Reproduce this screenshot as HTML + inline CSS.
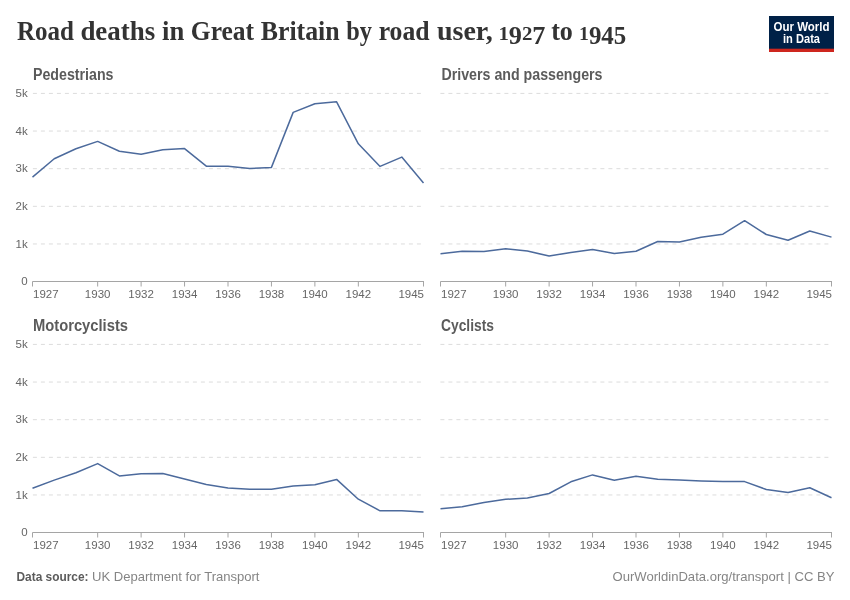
<!DOCTYPE html>
<html><head><meta charset="utf-8">
<style>
html,body{margin:0;padding:0;background:#fff;}
svg{display:block;will-change:transform;}
.t{font-family:"Liberation Serif",serif;font-weight:bold;font-size:27px;fill:#333;}
.td{font-size:19.5px;}
.ft{font-family:"Liberation Sans",sans-serif;font-weight:bold;font-size:16px;fill:#5b5b5b;}
.yl{font-family:"Liberation Sans",sans-serif;font-size:11.5px;fill:#666;text-anchor:end;}
.xl{font-family:"Liberation Sans",sans-serif;font-size:11.5px;fill:#666;}
.g{stroke:#dcdcdc;stroke-width:1;stroke-dasharray:4,4;}
.ax{stroke:#a5a5a5;stroke-width:1;}
.ln{fill:none;stroke:#4c6a9c;stroke-width:1.5;stroke-linejoin:round;stroke-linecap:butt;}
.fs{font-family:"Liberation Sans",sans-serif;font-size:13px;fill:#858585;}
.fsb{font-weight:bold;fill:#5b5b5b;}
.logo{font-family:"Liberation Sans",sans-serif;font-weight:bold;font-size:12px;fill:#fff;text-anchor:middle;}
</style></head>
<body>
<svg width="850" height="600" viewBox="0 0 850 600">
<rect width="850" height="600" fill="#fff"/>
<text x="16.9" y="40.2" class="t" textLength="57.0" lengthAdjust="spacingAndGlyphs">Road</text>
<text x="80.4" y="40.2" class="t" textLength="74.8" lengthAdjust="spacingAndGlyphs">deaths</text>
<text x="162.1" y="40.2" class="t" textLength="22.2" lengthAdjust="spacingAndGlyphs">in</text>
<text x="190.8" y="40.2" class="t" textLength="63.3" lengthAdjust="spacingAndGlyphs">Great</text>
<text x="260.7" y="40.2" class="t" textLength="79.0" lengthAdjust="spacingAndGlyphs">Britain</text>
<text x="346.3" y="40.2" class="t" textLength="25.7" lengthAdjust="spacingAndGlyphs">by</text>
<text x="378.7" y="40.2" class="t" textLength="50.9" lengthAdjust="spacingAndGlyphs">road</text>
<text x="436.9" y="40.2" class="t" textLength="55.8" lengthAdjust="spacingAndGlyphs">user,</text>
<text x="498.4" y="40.2" class="t td" textLength="47.1" lengthAdjust="spacingAndGlyphs"><tspan dy="0.0">1</tspan><tspan dy="3.5" style="font-size:24.5px">9</tspan><tspan dy="-3.5">2</tspan><tspan dy="3.5" style="font-size:24.5px">7</tspan></text>
<text x="551.2" y="40.2" class="t" textLength="21.7" lengthAdjust="spacingAndGlyphs">to</text>
<text x="579.0" y="40.2" class="t td" textLength="47.3" lengthAdjust="spacingAndGlyphs"><tspan dy="0.0">1</tspan><tspan dy="3.5" style="font-size:24.5px">9</tspan><tspan dy="0.0" style="font-size:24.5px">4</tspan><tspan dy="0.0" style="font-size:24.5px">5</tspan></text>
<rect x="769" y="16" width="65" height="36" fill="#002147"/>
<rect x="769" y="48.7" width="65" height="3.3" fill="#ce261e"/>
<text x="801.5" y="30.8" class="logo" textLength="56" lengthAdjust="spacingAndGlyphs">Our World</text>
<text x="801.5" y="43" class="logo" textLength="37" lengthAdjust="spacingAndGlyphs">in Data</text>
<text x="33" y="79.5" class="ft" textLength="80.5" lengthAdjust="spacingAndGlyphs">Pedestrians</text>
<line x1="32.9" y1="243.96" x2="423.5" y2="243.96" class="g"/>
<text x="27.7" y="247.56" class="yl">1k</text>
<line x1="32.9" y1="206.32" x2="423.5" y2="206.32" class="g"/>
<text x="27.7" y="209.92" class="yl">2k</text>
<line x1="32.9" y1="168.68" x2="423.5" y2="168.68" class="g"/>
<text x="27.7" y="172.28" class="yl">3k</text>
<line x1="32.9" y1="131.04" x2="423.5" y2="131.04" class="g"/>
<text x="27.7" y="134.64" class="yl">4k</text>
<line x1="32.9" y1="93.40" x2="423.5" y2="93.40" class="g"/>
<text x="27.7" y="97.00" class="yl">5k</text>
<text x="27.7" y="285.10" class="yl">0</text>
<line x1="32.5" y1="281.5" x2="424.0" y2="281.5" class="ax"/>
<line x1="32.50" y1="281.5" x2="32.50" y2="286.5" class="ax"/>
<text x="33.00" y="298.00" class="xl" text-anchor="start">1927</text>
<line x1="97.67" y1="281.5" x2="97.67" y2="286.5" class="ax"/>
<text x="97.67" y="298.00" class="xl" text-anchor="middle">1930</text>
<line x1="141.11" y1="281.5" x2="141.11" y2="286.5" class="ax"/>
<text x="141.11" y="298.00" class="xl" text-anchor="middle">1932</text>
<line x1="184.56" y1="281.5" x2="184.56" y2="286.5" class="ax"/>
<text x="184.56" y="298.00" class="xl" text-anchor="middle">1934</text>
<line x1="228.00" y1="281.5" x2="228.00" y2="286.5" class="ax"/>
<text x="228.00" y="298.00" class="xl" text-anchor="middle">1936</text>
<line x1="271.44" y1="281.5" x2="271.44" y2="286.5" class="ax"/>
<text x="271.44" y="298.00" class="xl" text-anchor="middle">1938</text>
<line x1="314.89" y1="281.5" x2="314.89" y2="286.5" class="ax"/>
<text x="314.89" y="298.00" class="xl" text-anchor="middle">1940</text>
<line x1="358.33" y1="281.5" x2="358.33" y2="286.5" class="ax"/>
<text x="358.33" y="298.00" class="xl" text-anchor="middle">1942</text>
<line x1="423.50" y1="281.5" x2="423.50" y2="286.5" class="ax"/>
<text x="424.00" y="298.00" class="xl" text-anchor="end">1945</text>
<polyline points="32.50,177.10 54.22,158.80 75.94,148.80 97.67,141.40 119.39,151.30 141.11,154.30 162.83,149.70 184.56,148.60 206.28,166.20 228.00,166.30 249.72,168.60 271.44,167.40 293.17,112.40 314.89,103.80 336.61,101.80 358.33,143.80 380.06,166.40 401.78,157.10 423.50,183.00" class="ln"/>
<text x="441.5" y="79.5" class="ft" textLength="161" lengthAdjust="spacingAndGlyphs">Drivers and passengers</text>
<line x1="440.4" y1="243.96" x2="831.5" y2="243.96" class="g"/>
<line x1="440.4" y1="206.32" x2="831.5" y2="206.32" class="g"/>
<line x1="440.4" y1="168.68" x2="831.5" y2="168.68" class="g"/>
<line x1="440.4" y1="131.04" x2="831.5" y2="131.04" class="g"/>
<line x1="440.4" y1="93.40" x2="831.5" y2="93.40" class="g"/>
<line x1="440.5" y1="281.5" x2="832.0" y2="281.5" class="ax"/>
<line x1="440.50" y1="281.5" x2="440.50" y2="286.5" class="ax"/>
<text x="441.00" y="298.00" class="xl" text-anchor="start">1927</text>
<line x1="505.67" y1="281.5" x2="505.67" y2="286.5" class="ax"/>
<text x="505.67" y="298.00" class="xl" text-anchor="middle">1930</text>
<line x1="549.11" y1="281.5" x2="549.11" y2="286.5" class="ax"/>
<text x="549.11" y="298.00" class="xl" text-anchor="middle">1932</text>
<line x1="592.56" y1="281.5" x2="592.56" y2="286.5" class="ax"/>
<text x="592.56" y="298.00" class="xl" text-anchor="middle">1934</text>
<line x1="636.00" y1="281.5" x2="636.00" y2="286.5" class="ax"/>
<text x="636.00" y="298.00" class="xl" text-anchor="middle">1936</text>
<line x1="679.44" y1="281.5" x2="679.44" y2="286.5" class="ax"/>
<text x="679.44" y="298.00" class="xl" text-anchor="middle">1938</text>
<line x1="722.89" y1="281.5" x2="722.89" y2="286.5" class="ax"/>
<text x="722.89" y="298.00" class="xl" text-anchor="middle">1940</text>
<line x1="766.33" y1="281.5" x2="766.33" y2="286.5" class="ax"/>
<text x="766.33" y="298.00" class="xl" text-anchor="middle">1942</text>
<line x1="831.50" y1="281.5" x2="831.50" y2="286.5" class="ax"/>
<text x="832.00" y="298.00" class="xl" text-anchor="end">1945</text>
<polyline points="440.50,253.80 462.22,251.30 483.94,251.60 505.67,248.80 527.39,251.10 549.11,256.10 570.83,252.40 592.56,249.60 614.28,253.50 636.00,251.20 657.72,241.50 679.44,242.00 701.17,237.30 722.89,234.20 744.61,220.70 766.33,234.50 788.06,240.20 809.78,231.00 831.50,237.10" class="ln"/>
<text x="33" y="331" class="ft" textLength="95" lengthAdjust="spacingAndGlyphs">Motorcyclists</text>
<line x1="32.9" y1="494.96" x2="423.5" y2="494.96" class="g"/>
<text x="27.7" y="498.56" class="yl">1k</text>
<line x1="32.9" y1="457.32" x2="423.5" y2="457.32" class="g"/>
<text x="27.7" y="460.92" class="yl">2k</text>
<line x1="32.9" y1="419.68" x2="423.5" y2="419.68" class="g"/>
<text x="27.7" y="423.28" class="yl">3k</text>
<line x1="32.9" y1="382.04" x2="423.5" y2="382.04" class="g"/>
<text x="27.7" y="385.64" class="yl">4k</text>
<line x1="32.9" y1="344.40" x2="423.5" y2="344.40" class="g"/>
<text x="27.7" y="348.00" class="yl">5k</text>
<text x="27.7" y="536.10" class="yl">0</text>
<line x1="32.5" y1="532.5" x2="424.0" y2="532.5" class="ax"/>
<line x1="32.50" y1="532.5" x2="32.50" y2="537.5" class="ax"/>
<text x="33.00" y="549.00" class="xl" text-anchor="start">1927</text>
<line x1="97.67" y1="532.5" x2="97.67" y2="537.5" class="ax"/>
<text x="97.67" y="549.00" class="xl" text-anchor="middle">1930</text>
<line x1="141.11" y1="532.5" x2="141.11" y2="537.5" class="ax"/>
<text x="141.11" y="549.00" class="xl" text-anchor="middle">1932</text>
<line x1="184.56" y1="532.5" x2="184.56" y2="537.5" class="ax"/>
<text x="184.56" y="549.00" class="xl" text-anchor="middle">1934</text>
<line x1="228.00" y1="532.5" x2="228.00" y2="537.5" class="ax"/>
<text x="228.00" y="549.00" class="xl" text-anchor="middle">1936</text>
<line x1="271.44" y1="532.5" x2="271.44" y2="537.5" class="ax"/>
<text x="271.44" y="549.00" class="xl" text-anchor="middle">1938</text>
<line x1="314.89" y1="532.5" x2="314.89" y2="537.5" class="ax"/>
<text x="314.89" y="549.00" class="xl" text-anchor="middle">1940</text>
<line x1="358.33" y1="532.5" x2="358.33" y2="537.5" class="ax"/>
<text x="358.33" y="549.00" class="xl" text-anchor="middle">1942</text>
<line x1="423.50" y1="532.5" x2="423.50" y2="537.5" class="ax"/>
<text x="424.00" y="549.00" class="xl" text-anchor="end">1945</text>
<polyline points="32.50,488.30 54.22,480.10 75.94,472.70 97.67,463.60 119.39,475.90 141.11,473.70 162.83,473.50 184.56,478.90 206.28,484.60 228.00,488.00 249.72,489.30 271.44,489.30 293.17,486.00 314.89,484.80 336.61,479.40 358.33,499.20 380.06,510.80 401.78,510.80 423.50,512.00" class="ln"/>
<text x="441" y="331" class="ft" textLength="53" lengthAdjust="spacingAndGlyphs">Cyclists</text>
<line x1="440.4" y1="494.96" x2="831.5" y2="494.96" class="g"/>
<line x1="440.4" y1="457.32" x2="831.5" y2="457.32" class="g"/>
<line x1="440.4" y1="419.68" x2="831.5" y2="419.68" class="g"/>
<line x1="440.4" y1="382.04" x2="831.5" y2="382.04" class="g"/>
<line x1="440.4" y1="344.40" x2="831.5" y2="344.40" class="g"/>
<line x1="440.5" y1="532.5" x2="832.0" y2="532.5" class="ax"/>
<line x1="440.50" y1="532.5" x2="440.50" y2="537.5" class="ax"/>
<text x="441.00" y="549.00" class="xl" text-anchor="start">1927</text>
<line x1="505.67" y1="532.5" x2="505.67" y2="537.5" class="ax"/>
<text x="505.67" y="549.00" class="xl" text-anchor="middle">1930</text>
<line x1="549.11" y1="532.5" x2="549.11" y2="537.5" class="ax"/>
<text x="549.11" y="549.00" class="xl" text-anchor="middle">1932</text>
<line x1="592.56" y1="532.5" x2="592.56" y2="537.5" class="ax"/>
<text x="592.56" y="549.00" class="xl" text-anchor="middle">1934</text>
<line x1="636.00" y1="532.5" x2="636.00" y2="537.5" class="ax"/>
<text x="636.00" y="549.00" class="xl" text-anchor="middle">1936</text>
<line x1="679.44" y1="532.5" x2="679.44" y2="537.5" class="ax"/>
<text x="679.44" y="549.00" class="xl" text-anchor="middle">1938</text>
<line x1="722.89" y1="532.5" x2="722.89" y2="537.5" class="ax"/>
<text x="722.89" y="549.00" class="xl" text-anchor="middle">1940</text>
<line x1="766.33" y1="532.5" x2="766.33" y2="537.5" class="ax"/>
<text x="766.33" y="549.00" class="xl" text-anchor="middle">1942</text>
<line x1="831.50" y1="532.5" x2="831.50" y2="537.5" class="ax"/>
<text x="832.00" y="549.00" class="xl" text-anchor="end">1945</text>
<polyline points="440.50,508.80 462.22,506.80 483.94,502.60 505.67,499.30 527.39,498.10 549.11,493.50 570.83,481.80 592.56,474.90 614.28,480.20 636.00,476.30 657.72,479.20 679.44,480.10 701.17,480.90 722.89,481.40 744.61,481.60 766.33,489.50 788.06,492.50 809.78,487.80 831.50,497.70" class="ln"/>
<text x="16.5" y="580.8" class="fs fsb" textLength="72" lengthAdjust="spacingAndGlyphs">Data source:</text>
<text x="92" y="580.8" class="fs" textLength="167.5" lengthAdjust="spacingAndGlyphs">UK Department for Transport</text>
<text x="834.5" y="580.8" class="fs" text-anchor="end" textLength="222" lengthAdjust="spacingAndGlyphs">OurWorldinData.org/transport | CC BY</text>
</svg>
</body></html>
